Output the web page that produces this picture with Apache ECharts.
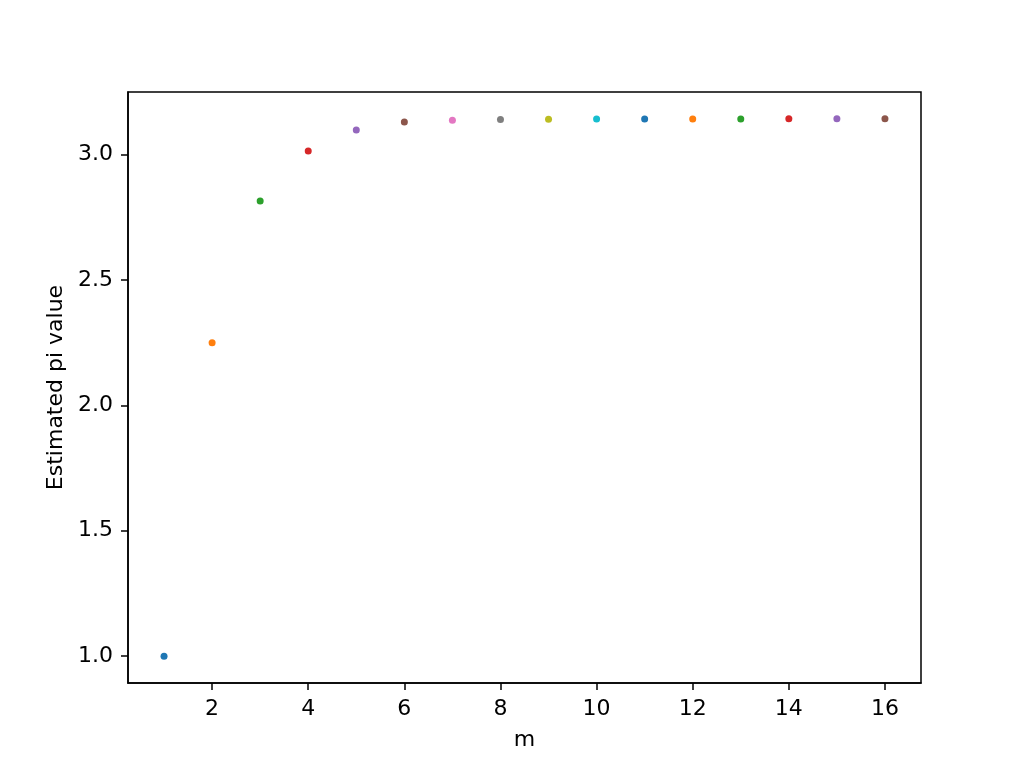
<!DOCTYPE html>
<html>
<head>
<meta charset="utf-8">
<script src="https://cdn.jsdelivr.net/npm/echarts@6/dist/echarts.min.js"></script>
<style>html,body{margin:0;padding:0;background:#fff}#c{width:1024px;height:768px}</style>
</head>
<body>
<div id="c"></div>
<script>
const mValues = [1, 2, 3, 4, 5, 6, 7, 8, 9, 10, 11, 12, 13, 14, 15, 16];
const piEstimates = [1.0, 2.249, 2.814, 3.014, 3.097, 3.129, 3.136, 3.139, 3.1405, 3.1411, 3.1414, 3.1415, 3.1415, 3.1416, 3.1416, 3.1416];
const xTicks = [2, 4, 6, 8, 10, 12, 14, 16];
const yTicks = [1.0, 1.5, 2.0, 2.5, 3.0];
const palette = ['#1f77b4', '#ff7f0e', '#2ca02c', '#d62728', '#9467bd', '#8c564b', '#e377c2', '#7f7f7f', '#bcbd22', '#17becf'];

const FONT = 'DejaVu Sans';
const chart = echarts.init(document.getElementById('c'), null, {renderer: 'canvas'});
const series = mValues.map((m, i) => ({
  type: 'scatter',
  data: [[m, piEstimates[i]]],
  symbol: 'circle',
  symbolSize: 7,
  itemStyle: {color: palette[i % palette.length], opacity: 1},
  emphasis: {disabled: true}
}));
chart.setOption({
  animation: false,
  backgroundColor: '#fff',
  grid: {left: 128, right: 103, top: 92, bottom: 85, containLabel: false, outerBoundsMode: 'none',
         show: true, borderColor: '#000', borderWidth: 1.5, backgroundColor: 'transparent'},
  xAxis: {
    type: 'value', min: 0.25, max: 16.75,
    name: 'm', nameLocation: 'middle', nameGap: 46,
    nameTextStyle: {fontFamily: FONT, fontSize: 22, color: '#000'},
    axisLine: {show: true, onZero: false, lineStyle: {color: '#000', width: 1.5}},
    axisTick: {show: true, length: 7, lineStyle: {color: '#000', width: 1.5}, customValues: xTicks},
    axisLabel: {fontFamily: FONT, fontSize: 22, color: '#000', margin: 15, customValues: xTicks,
                formatter: v => String(v)},
    splitLine: {show: false}
  },
  yAxis: {
    type: 'value', min: 0.8929, max: 3.2487,
    name: 'Estimated pi value', nameLocation: 'middle', nameGap: 60,
    nameTextStyle: {fontFamily: FONT, fontSize: 22, color: '#000'},
    axisLine: {show: true, onZero: false, lineStyle: {color: '#000', width: 1.5}},
    axisTick: {show: true, length: 7, lineStyle: {color: '#000', width: 1.5}, customValues: yTicks},
    axisLabel: {fontFamily: FONT, fontSize: 22, color: '#000', margin: 15, customValues: yTicks,
                formatter: v => v.toFixed(1)},
    splitLine: {show: false}
  },
  series: series
});
</script>
</body>
</html>
